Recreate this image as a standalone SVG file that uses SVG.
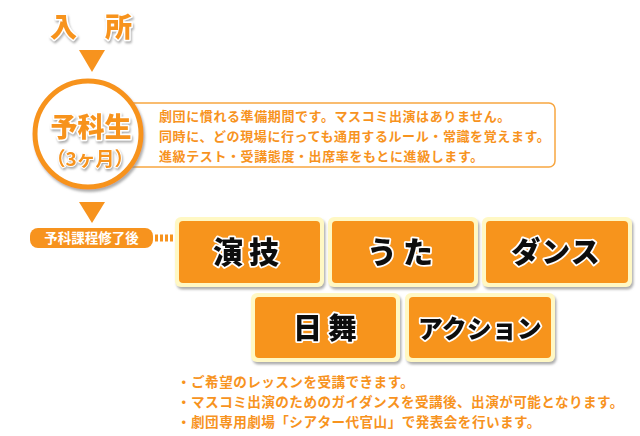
<svg xmlns="http://www.w3.org/2000/svg" width="640" height="436" viewBox="0 0 640 436">
<defs>
<filter id="sh" x="-10%" y="-10%" width="130%" height="140%">
<feDropShadow dx="1" dy="2" stdDeviation="0.8" flood-color="#9a9a9a" flood-opacity="0.8"/>
</filter>
<filter id="bsh" x="-10%" y="-10%" width="125%" height="130%">
<feDropShadow dx="1.5" dy="2.5" stdDeviation="1" flood-color="#8c8c8c" flood-opacity="0.7"/>
</filter>
<style>
.jp{font-family:"Noto Sans CJK JP","Noto Sans CJK SC",sans-serif;font-weight:700}
.head{fill:#f7931e;stroke:#ffffff;stroke-width:3;paint-order:stroke;stroke-linejoin:round;font-size:27px;font-weight:900}
.info{fill:#f7931e;font-size:13px;letter-spacing:0.6px}
.btnout{fill:#fff8c4}
.btnin{fill:#f7941d}
.btxt{fill:#111111;stroke:#ffffff;stroke-width:3.5;paint-order:stroke;stroke-linejoin:round;font-weight:900;text-anchor:middle}
.tri{fill:#f7931e}
.note{fill:#f7931e;font-size:13.6px;letter-spacing:0.45px}
</style>
</defs>
<g id="entry">
<text class="jp head" x="50" y="37" filter="url(#sh)">入</text>
<text class="jp head" x="105" y="37" filter="url(#sh)">所</text>
</g>
<g id="connectors">
<polygon class="tri" points="79,50 105,50 92,72"/>
<polygon class="tri" points="79,202 105,202 92,223"/>
<line x1="155" y1="238" x2="175" y2="238" stroke="#f7931e" stroke-width="7" stroke-dasharray="3 2"/>
</g>
<g id="info">
<rect x="120" y="103" width="435" height="64" rx="6" fill="#ffffff" stroke="#f7a640" stroke-width="1.5"/>
<text class="jp info" x="159" y="121">劇団に慣れる準備期間です。マスコミ出演はありません。</text>
<text class="jp info" x="159" y="141">同時に、どの現場に行っても通用するルール・常識を覚えます。</text>
<text class="jp info" x="159" y="161">進級テスト・受講態度・出席率をもとに進級します。</text>
</g>
<g id="yokasei">
<circle cx="88" cy="134" r="53" fill="#ffffff" stroke="#f7931e" stroke-width="5" filter="url(#bsh)"/>
<text class="jp head" x="91" y="137" text-anchor="middle" font-size="28" filter="url(#sh)">予科生</text>
<text class="jp" x="90" y="166" text-anchor="middle" font-size="19" font-weight="500" fill="#f7931e" stroke="#ffffff" stroke-width="2" paint-order="stroke" filter="url(#sh)">（3ヶ月）</text>
</g>
<g id="after">
<rect x="30" y="228" width="123" height="20" rx="8" fill="#f7931e"/>
<text class="jp" x="91.5" y="243" text-anchor="middle" font-size="13.5" fill="#ffffff">予科課程修了後</text>
</g>
<g id="engi" filter="url(#bsh)">
<rect class="btnout" x="175" y="217" width="149" height="70" rx="6"/>
<rect class="btnin" x="179" y="221" width="141" height="62" rx="4"/>
<text class="jp btxt" x="249" y="263" font-size="30" letter-spacing="6">演技</text>
</g>
<g id="uta" filter="url(#bsh)">
<rect class="btnout" x="328" y="217" width="150" height="70" rx="6"/>
<rect class="btnin" x="332" y="221" width="142" height="62" rx="4"/>
<text class="jp btxt" x="403" y="263" font-size="30" letter-spacing="6">うた</text>
</g>
<g id="dance" filter="url(#bsh)">
<rect class="btnout" x="482" y="217" width="150" height="70" rx="6"/>
<rect class="btnin" x="486" y="221" width="142" height="62" rx="4"/>
<text class="jp btxt" x="556" y="263" font-size="29" letter-spacing="1">ダンス</text>
</g>
<g id="nichibu" filter="url(#bsh)">
<rect class="btnout" x="251" y="293" width="149" height="69" rx="6"/>
<rect class="btnin" x="255" y="297" width="141" height="61" rx="4"/>
<text class="jp btxt" x="328" y="339" font-size="29" letter-spacing="6">日舞</text>
</g>
<g id="action" filter="url(#bsh)">
<rect class="btnout" x="405" y="293" width="150" height="69" rx="6"/>
<rect class="btnin" x="409" y="297" width="142" height="61" rx="4"/>
<text class="jp btxt" x="480" y="338" font-size="25">アクション</text>
</g>
<g id="notes">
<text class="jp note" x="177" y="387">・ご希望のレッスンを受講できます。</text>
<text class="jp note" x="177" y="407">・マスコミ出演のためのガイダンスを受講後、出演が可能となります。</text>
<text class="jp note" x="177" y="427">・劇団専用劇場「シアター代官山」で発表会を行います。</text>
</g>
</svg>
